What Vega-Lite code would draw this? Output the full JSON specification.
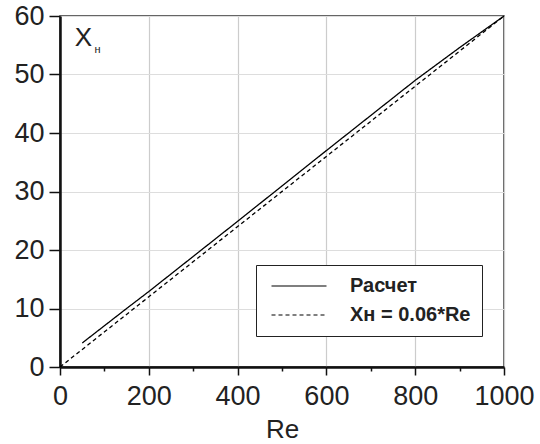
{
  "$schema": "https://vega.github.io/schema/vega-lite/v6.json",
  "width": 444,
  "height": 351,
  "autosize": {"type": "none"},
  "padding": {"left": 60, "top": 16, "right": 36, "bottom": 77},
  "background": "white",
  "config": {
    "font": "Liberation Sans",
    "view": {"stroke": "#333333", "strokeWidth": 1.5},
    "axis": {"labelFont": "Liberation Sans", "titleFont": "Liberation Sans", "labelColor": "#222222", "titleColor": "#222222", "titleFontWeight": "normal"},
    "legend": {"labelFont": "Liberation Sans"}
  },
  "datasets": {
    "lines": [
      {"series": "Расчет", "Re": 50, "X": 4.1},
      {"series": "Расчет", "Re": 150, "X": 10.0},
      {"series": "Расчет", "Re": 200, "X": 12.9},
      {"series": "Расчет", "Re": 400, "X": 24.9},
      {"series": "Расчет", "Re": 600, "X": 37.0},
      {"series": "Расчет", "Re": 800, "X": 49.0},
      {"series": "Расчет", "Re": 900, "X": 54.6},
      {"series": "Расчет", "Re": 1000, "X": 60},
      {"series": "Xн = 0.06*Re", "Re": 0, "X": 0},
      {"series": "Xн = 0.06*Re", "Re": 1000, "X": 60}
    ]
  },
  "layer": [
    {
      "data": {"name": "lines"},
      "mark": {"type": "line", "color": "black", "strokeWidth": 1.3},
      "encoding": {
        "x": {
          "field": "Re", "type": "quantitative",
          "scale": {"domain": [0, 1000], "nice": false},
          "axis": {
            "title": "Re", "titleFontSize": 26, "titlePadding": 7,
            "values": [0,100,200,300,400,500,600,700,800,900,1000],
            "format": "d",
            "labelExpr": "datum.value % 200 === 0 ? datum.label : ''",
            "labelFontSize": 27, "labelPadding": 8, "labelFlush": false,
            "domainColor": "#111111", "domainWidth": 2.5,
            "tickColor": "#111111", "tickWidth": 1.5,
            "tickSize": {"condition": {"test": "datum.value % 200 === 0", "value": 8}, "value": 4},
            "grid": true, "gridColor": "#cccccc", "gridWidth": 1.2,
            "gridOpacity": {"condition": {"test": "datum.value % 200 === 0", "value": 1}, "value": 0}
          }
        },
        "y": {
          "field": "X", "type": "quantitative",
          "scale": {"domain": [0, 60], "nice": false},
          "axis": {
            "title": null,
            "values": [0,5,10,15,20,25,30,35,40,45,50,55,60],
            "labelExpr": "datum.value % 10 === 0 ? datum.label : ''",
            "labelFontSize": 27, "labelPadding": 5, "labelFlush": false,
            "domainColor": "#111111", "domainWidth": 2.5,
            "tickColor": "#111111", "tickWidth": 1.5,
            "tickSize": {"condition": {"test": "datum.value % 10 === 0", "value": 11}, "value": 5},
            "grid": true, "gridColor": "#dddddd", "gridWidth": 1.2,
            "gridOpacity": {"condition": {"test": "datum.value % 10 === 0", "value": 1}, "value": 0}
          }
        },
        "strokeDash": {
          "field": "series", "type": "nominal",
          "sort": ["Расчет", "Xн = 0.06*Re"],
          "scale": {"domain": ["Расчет", "Xн = 0.06*Re"], "range": [[1, 0], [4, 3]]},
          "legend": {
            "title": null, "orient": "none", "legendX": 196, "legendY": 249,
            "strokeColor": "#222222", "fillColor": "white", "padding": 11,
            "symbolType": "M-1,0H9", "symbolSize": 121, "symbolStrokeWidth": 1.1,
            "symbolStrokeColor": "black", "symbolFillColor": "transparent",
            "labelFontSize": 20, "labelFontWeight": "bold", "labelColor": "#222222",
            "labelOffset": 63, "rowPadding": 9, "cornerRadius": 0
          }
        }
      }
    },
    {
      "data": {"values": [{}]},
      "mark": {"type": "text", "fontSize": 26, "color": "#222222", "font": "Liberation Sans", "align": "center", "baseline": "middle"},
      "encoding": {
        "x": {"datum": 53, "type": "quantitative"},
        "y": {"datum": 56.2, "type": "quantitative"},
        "text": {"value": "X"}
      }
    },
    {
      "data": {"values": [{}]},
      "mark": {"type": "text", "fontSize": 11, "color": "#222222", "font": "Liberation Sans", "align": "center", "baseline": "middle"},
      "encoding": {
        "x": {"datum": 84.5, "type": "quantitative"},
        "y": {"datum": 54.2, "type": "quantitative"},
        "text": {"value": "н"}
      }
    }
  ]
}
